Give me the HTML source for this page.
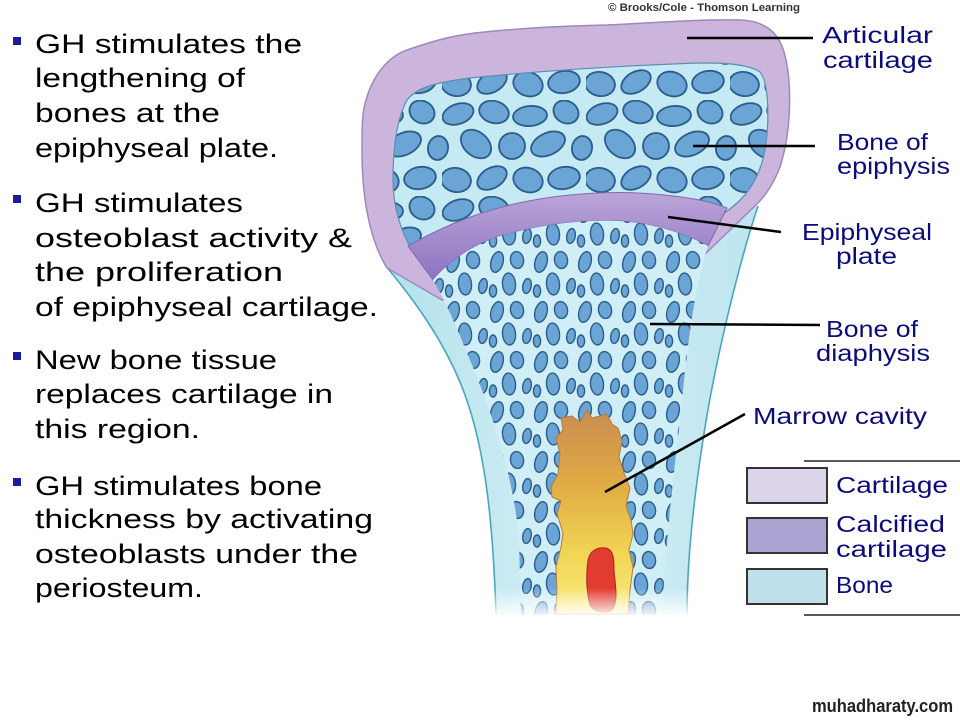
<!DOCTYPE html>
<html><head><meta charset="utf-8"><style>
html,body{margin:0;padding:0;background:#fff;}
svg{display:block;}
.t{font-family:"Liberation Sans","DejaVu Sans",sans-serif;font-size:27px;fill:#000;}
.l{font-family:"Liberation Sans","DejaVu Sans",sans-serif;font-size:23px;fill:#0b0b7c;}
</style></head><body>
<svg width="960" height="720" viewBox="0 0 960 720" xmlns="http://www.w3.org/2000/svg">
<defs>
<pattern id="epi" x="10" y="4" width="144" height="96" patternUnits="userSpaceOnUse">
<rect width="144" height="96" fill="#c6eaf3"/>
<g fill="#6aa5d6" stroke="#2b5c8a" stroke-width="1.8">
<ellipse cx="16" cy="14" rx="16" ry="10" transform="rotate(-20 16 14)"/>
<ellipse cx="52" cy="12" rx="15" ry="11" transform="rotate(15 52 12)"/>
<ellipse cx="88" cy="16" rx="17" ry="10" transform="rotate(-5 88 16)"/>
<ellipse cx="124" cy="12" rx="13" ry="11" transform="rotate(30 124 12)"/>
<ellipse cx="34" cy="44" rx="17" ry="12" transform="rotate(40 34 44)"/>
<ellipse cx="70" cy="46" rx="13" ry="13" transform="rotate(0 70 46)"/>
<ellipse cx="106" cy="44" rx="18" ry="11" transform="rotate(-25 106 44)"/>
<ellipse cx="140" cy="48" rx="10" ry="12" transform="rotate(10 140 48)"/>
<ellipse cx="-4" cy="48" rx="10" ry="12" transform="rotate(10 -4 48)"/>
<ellipse cx="14" cy="80" rx="15" ry="12" transform="rotate(10 14 80)"/>
<ellipse cx="50" cy="78" rx="16" ry="10" transform="rotate(-30 50 78)"/>
<ellipse cx="86" cy="80" rx="15" ry="12" transform="rotate(20 86 80)"/>
<ellipse cx="122" cy="78" rx="16" ry="11" transform="rotate(-10 122 78)"/>
</g>
</pattern>
<pattern id="dia" x="3" y="0" width="44" height="50" patternUnits="userSpaceOnUse">
<rect width="44" height="50" fill="#d0eef5"/>
<g fill="#6aa5d6" stroke="#2b5c8a" stroke-width="1.4">
<ellipse cx="10" cy="12" rx="6" ry="10.5" transform="rotate(15 10 12)"/>
<ellipse cx="30" cy="10" rx="6.5" ry="8.5" transform="rotate(-10 30 10)"/>
<ellipse cx="22" cy="34" rx="6.5" ry="11" transform="rotate(-5 22 34)"/>
<ellipse cx="40" cy="36" rx="4.2" ry="7.5" transform="rotate(10 40 36)"/>
<ellipse cx="-4" cy="36" rx="4.2" ry="7.5" transform="rotate(10 -4 36)"/>
<ellipse cx="6" cy="41" rx="3.6" ry="6"/>
</g>
</pattern>
<linearGradient id="plate" x1="0" y1="0" x2="0" y2="1">
<stop offset="0" stop-color="#bba5d8"/>
<stop offset="1" stop-color="#8c73c2"/>
</linearGradient>
<linearGradient id="marrow" gradientUnits="userSpaceOnUse" x1="0" y1="410" x2="0" y2="612">
<stop offset="0" stop-color="#c98d52"/>
<stop offset="0.35" stop-color="#dfa944"/>
<stop offset="0.7" stop-color="#f1d453"/>
<stop offset="1" stop-color="#f8ec7e"/>
</linearGradient>
<linearGradient id="fade" x1="0" y1="0" x2="0" y2="1">
<stop offset="0" stop-color="#fff" stop-opacity="0"/>
<stop offset="0.75" stop-color="#fff" stop-opacity="1"/>
</linearGradient>
<linearGradient id="cort" x1="0" y1="0" x2="1" y2="0">
<stop offset="0" stop-color="#b3e1ec"/>
<stop offset="0.5" stop-color="#d4eff5"/>
<stop offset="1" stop-color="#bde5ef"/>
</linearGradient>
</defs>

<!-- Left text -->
<g fill="#1b1ba0">
<rect x="13" y="37" width="8" height="8"/>
<rect x="13" y="195" width="8" height="8"/>
<rect x="13" y="352" width="8" height="8"/>
<rect x="13" y="478" width="8" height="8"/>
</g>
<text class="t" x="35" y="53" textLength="267" lengthAdjust="spacingAndGlyphs">GH stimulates the</text>
<text class="t" x="35" y="87" textLength="210" lengthAdjust="spacingAndGlyphs">lengthening of</text>
<text class="t" x="35" y="122" textLength="185" lengthAdjust="spacingAndGlyphs">bones at the</text>
<text class="t" x="35" y="157" textLength="243" lengthAdjust="spacingAndGlyphs">epiphyseal plate.</text>
<text class="t" x="35" y="212" textLength="208" lengthAdjust="spacingAndGlyphs">GH stimulates</text>
<text class="t" x="35" y="247" textLength="317" lengthAdjust="spacingAndGlyphs">osteoblast activity  &amp;</text>
<text class="t" x="35" y="281" textLength="248" lengthAdjust="spacingAndGlyphs">the proliferation</text>
<text class="t" x="35" y="316" textLength="343" lengthAdjust="spacingAndGlyphs">of epiphyseal cartilage.</text>
<text class="t" x="35" y="369" textLength="242" lengthAdjust="spacingAndGlyphs">New bone tissue</text>
<text class="t" x="35" y="403" textLength="298" lengthAdjust="spacingAndGlyphs">replaces cartilage in</text>
<text class="t" x="35" y="438" textLength="165" lengthAdjust="spacingAndGlyphs">this region.</text>
<text class="t" x="35" y="495" textLength="287" lengthAdjust="spacingAndGlyphs">GH stimulates bone</text>
<text class="t" x="35" y="528" textLength="338" lengthAdjust="spacingAndGlyphs">thickness by activating</text>
<text class="t" x="35" y="563" textLength="323" lengthAdjust="spacingAndGlyphs">osteoblasts under the</text>
<text class="t" x="35" y="597" textLength="168" lengthAdjust="spacingAndGlyphs">periosteum.</text>

<!-- Copyright -->
<text x="608" y="11" font-family="Liberation Sans, sans-serif" font-size="11" font-weight="bold" fill="#333" textLength="192" lengthAdjust="spacingAndGlyphs">© Brooks/Cole - Thomson Learning</text>

<!-- Shaft (cortex) -->
<path d="M385,265 C410,295 445,340 465,395 C485,450 493,520 496,615 L687,615 C687,570 692,510 703,440 C715,360 740,260 758,206 Z" fill="url(#cort)"/>
<path d="M385,265 C410,295 445,340 465,395 C485,450 493,520 496,615" fill="none" stroke="#4aa6be" stroke-width="1.6"/>
<path d="M758,206 C740,260 715,360 703,440 C692,510 687,570 687,615" fill="none" stroke="#4aa6be" stroke-width="1.6"/>

<!-- Purple cap (articular cartilage) -->
<path d="M387,268 C370,240 362,200 362,150 C362,130 362,118 364,108 C370,80 385,58 407,50 C430,42 450,36 475,33 C520,28 560,26 607,25 C650,23 700,19 740,20 C765,21 778,32 784,52 C792,80 792,130 780,167 C773,185 765,196 757,204 L702,257 L442,300 Z" fill="#ccb5dc" stroke="#9c89bd" stroke-width="1.5"/>

<!-- Epiphysis bone -->
<path d="M412,250 C400,230 393,205 393,180 C393,150 396,120 407,100 C418,86 440,82 470,78 C530,72 600,67 673,64 C710,62 745,62 760,72 C770,85 769,125 765,150 C761,172 752,190 735,205 L722,215 L600,205 L500,215 L420,258 Z" fill="url(#epi)" stroke="#5a8fb3" stroke-width="1.2"/>

<!-- Epiphyseal plate -->
<path d="M408,246 C440,228 470,215 510,205 C560,193 620,189 673,196 C700,199 715,203 727,208 L708,246 C690,236 660,224 620,221 C580,219 540,225 500,236 C475,244 450,260 433,280 Z" fill="url(#plate)" stroke="#7e6aae" stroke-width="1"/>

<!-- Diaphysis trabecular -->
<path d="M433,280 C445,300 458,330 470,360 C495,420 514,480 519,540 L521,615 L662,615 C666,540 674,470 680,420 C686,360 693,290 708,246 C690,236 660,224 620,221 C580,219 540,225 500,236 C475,244 450,260 433,280 Z" fill="url(#dia)"/>

<!-- Marrow cavity -->
<path d="M587,410 L592,418 L600,416 L607,414 L612,424 L618,428 L622,441 L619,457 L624,473 L630,488 L626,506 L631,520 L633,534 L629,550 L633,567 L630,590 L628,614 L556,614 L557,590 L556,567 L561,547 L563,533 L557,514 L561,501 L552,497 L551,487 L558,474 L560,454 L556,438 L563,430 L561,418 L572,416 L580,422 Z" fill="url(#marrow)" stroke="#b57d3c" stroke-width="1" stroke-linejoin="round"/>
<path d="M588,560 C590,550 598,547 606,548 C614,550 614,560 614,570 C615,585 619,600 612,610 C604,614 594,612 590,605 C586,590 586,575 588,560 Z" fill="#e23b2f" stroke="#b02222" stroke-width="1"/>

<!-- bottom fade -->
<rect x="370" y="588" width="340" height="40" fill="url(#fade)"/>

<!-- Leader lines -->
<g stroke="#000" stroke-width="2.5" fill="none">
<line x1="687" y1="38" x2="813" y2="38"/>
<line x1="693" y1="146" x2="815" y2="146"/>
<line x1="668" y1="217" x2="781" y2="232"/>
<line x1="650" y1="324" x2="820" y2="325"/>
<line x1="605" y1="492" x2="745" y2="414"/>
</g>

<!-- Right labels -->
<text class="l" x="822" y="43" textLength="111" lengthAdjust="spacingAndGlyphs">Articular</text>
<text class="l" x="823" y="68" textLength="110" lengthAdjust="spacingAndGlyphs">cartilage</text>
<text class="l" x="837" y="150" textLength="91" lengthAdjust="spacingAndGlyphs">Bone of</text>
<text class="l" x="837" y="174" textLength="113" lengthAdjust="spacingAndGlyphs">epiphysis</text>
<text class="l" x="802" y="240" textLength="130" lengthAdjust="spacingAndGlyphs">Epiphyseal</text>
<text class="l" x="836" y="264" textLength="61" lengthAdjust="spacingAndGlyphs">plate</text>
<text class="l" x="826" y="337" textLength="92" lengthAdjust="spacingAndGlyphs">Bone of</text>
<text class="l" x="816" y="361" textLength="114" lengthAdjust="spacingAndGlyphs">diaphysis</text>
<text class="l" x="753" y="424" textLength="174" lengthAdjust="spacingAndGlyphs">Marrow cavity</text>

<!-- Legend -->
<line x1="804" y1="461" x2="960" y2="461" stroke="#222" stroke-width="1.5"/>
<line x1="804" y1="615" x2="960" y2="615" stroke="#222" stroke-width="1.5"/>
<rect x="747" y="468" width="80" height="35" fill="#dcd5ea" stroke="#333" stroke-width="2"/>
<rect x="747" y="518" width="80" height="35" fill="#aaa2d0" stroke="#333" stroke-width="2"/>
<rect x="747" y="569" width="80" height="35" fill="#c0e0ec" stroke="#333" stroke-width="2"/>
<text class="l" x="836" y="493" textLength="112" lengthAdjust="spacingAndGlyphs">Cartilage</text>
<text class="l" x="836" y="532" textLength="109" lengthAdjust="spacingAndGlyphs">Calcified</text>
<text class="l" x="836" y="557" textLength="111" lengthAdjust="spacingAndGlyphs">cartilage</text>
<text class="l" x="836" y="593" textLength="57" lengthAdjust="spacingAndGlyphs">Bone</text>

<!-- Watermark -->
<text x="812" y="712" font-family="Liberation Sans, sans-serif" font-size="18" font-weight="bold" fill="#222" textLength="141" lengthAdjust="spacingAndGlyphs">muhadharaty.com</text>
</svg>
</body></html>
